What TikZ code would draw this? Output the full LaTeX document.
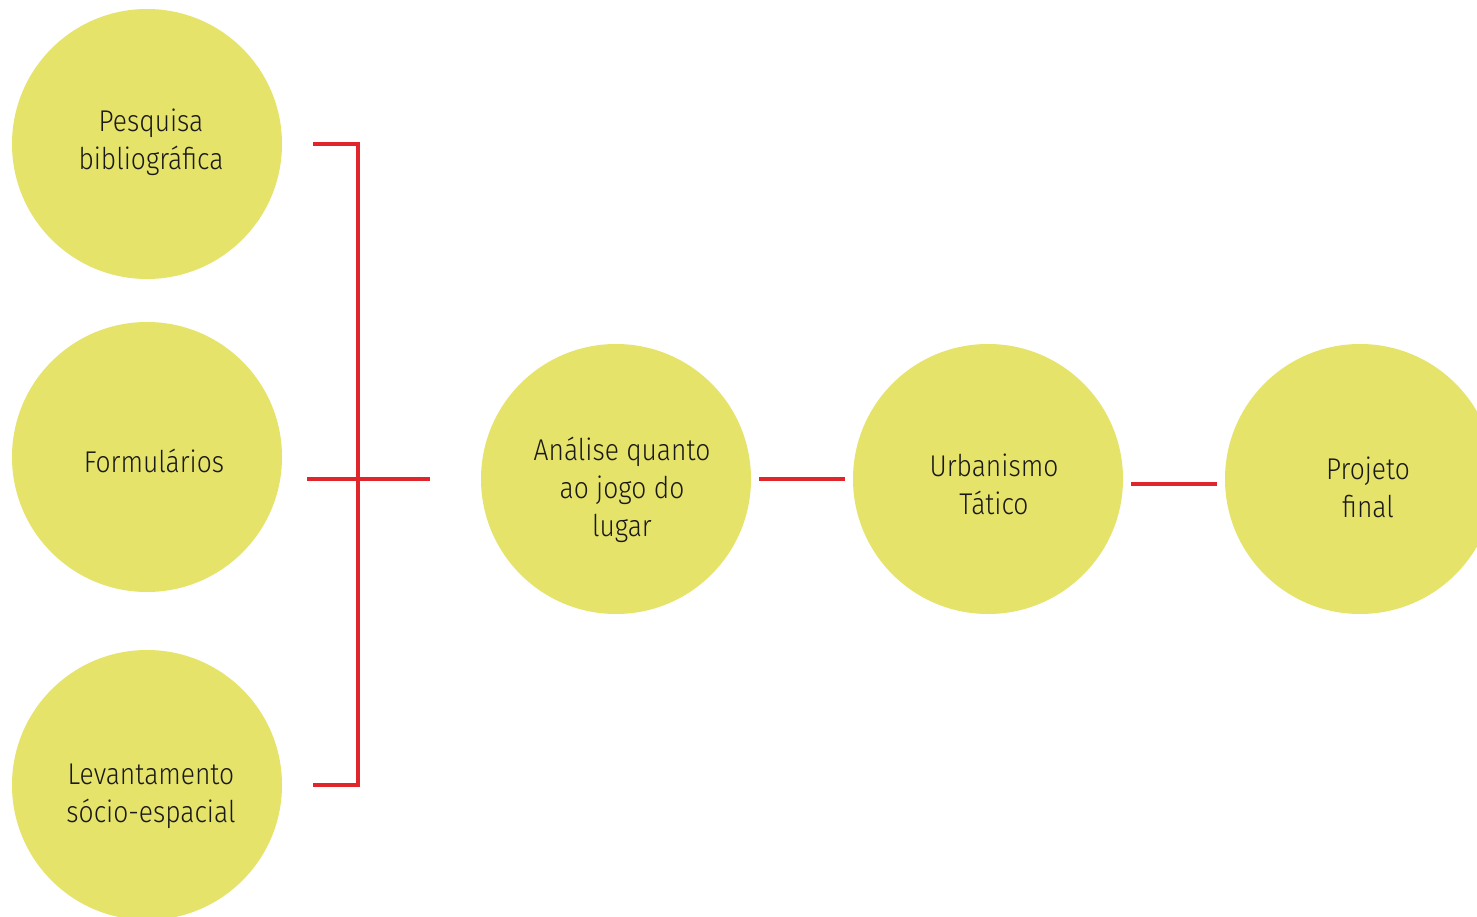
\documentclass[tikz,border=0pt]{standalone}
\usepackage{fontspec}
\setmainfont{Fira Sans}[UprightFont=* Light,FakeStretch=0.88]
\definecolor{circ}{HTML}{E5E36A}
\definecolor{lred}{HTML}{E0262B}
\begin{document}
\begin{tikzpicture}[x=1pt,y=-1pt,
  bubble/.style={circle,fill=circ,minimum size=270pt,inner sep=0pt},
  lbl/.style={align=center,font=\fontsize{30}{38}\selectfont,text=black!90},
  link/.style={draw=lred,line width=4.5pt}]
\clip (0,0) rectangle (1477,917);
\fill[white] (0,0) rectangle (1477,917);
\node[bubble] (c1) at (147,144) {};
\node[bubble] (c2) at (147,457) {};
\node[bubble] (c3) at (147,785) {};
\node[bubble] (c4) at (616,479) {};
\node[bubble] (c5) at (988,479) {};
\node[bubble] (c6) at (1360,479) {};
\node[lbl] (t1) at (151,142) {Pesquisa\\bibliográfica};
\node[lbl] (t2) at (154,461) {Formulários};
\node[lbl] (t3) at (151,796) {Levantamento\\sócio-espacial};
\node[lbl] (t4) at (622,490) {Análise quanto\\ao jogo do\\lugar};
\node[lbl] (t5) at (994,484) {Urbanismo\\Tático};
\node[lbl] (t6) at (1368,487) {Projeto\\final};
\coordinate (b1) at (313,144);
\coordinate (b2) at (358,144);
\coordinate (b3) at (358,785);
\coordinate (b4) at (313,785);
\coordinate (h1) at (307,479);
\coordinate (h2) at (430,479);
\coordinate (m1) at (759,479);
\coordinate (m2) at (845,479);
\coordinate (r1) at (1131,484);
\coordinate (r2) at (1217,484);
\draw[link,line join=miter] (b1) -- (b2) -- (b3) -- (b4);
\draw[link] (h1) -- (h2);
\draw[link] (m1) -- (m2);
\draw[link] (r1) -- (r2);
\end{tikzpicture}
\end{document}
